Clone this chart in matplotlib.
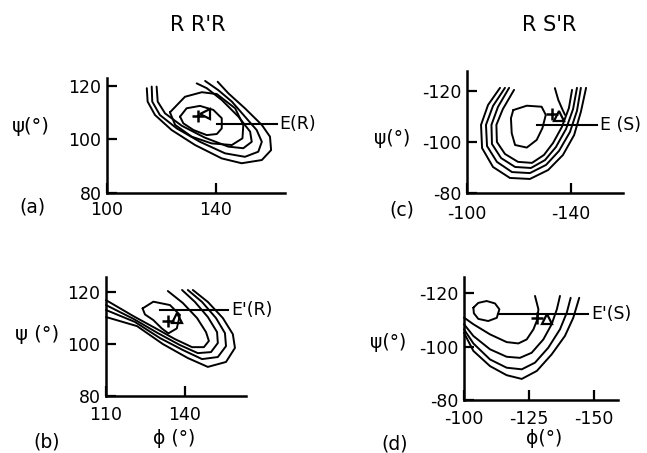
import matplotlib
matplotlib.use("Agg")
import matplotlib.pyplot as plt

# ---------------- data (phi, psi) ----------------
# panel (a)  RR'R / E(R)
a_c1 = [(126.8, 108.5), (129.2, 111.6), (134.1, 112.5), (139.0, 111.0), (142.1, 107.9),
        (142.1, 104.1), (140.3, 102.0), (136.6, 101.6), (131.7, 103.5), (128.0, 106.0)]
a_c2 = [(123.1, 110.1), (128.6, 115.9), (134.8, 117.6), (140.3, 116.9), (147.0, 111.6),
        (150.0, 105.4), (149.7, 100.4), (145.8, 97.9), (138.4, 98.5), (131.1, 101.0), (125.0, 105.4)]
a_c3 = [(118.2, 119.7), (118.6, 114.1), (121.3, 109.7), (127.4, 105.1), (136.0, 100.6), (144.5, 97.3),
        (150.0, 96.7), (153.1, 99.1), (152.5, 102.9), (148.2, 108.5), (142.1, 114.7), (136.6, 119.1),
        (132.9, 120.9)]
a_c4 = [(116.4, 119.7), (116.6, 114.1), (119.4, 109.1), (125.6, 104.1), (134.1, 99.1), (143.3, 94.8),
        (150.6, 93.5), (155.5, 95.4), (156.8, 99.1), (154.9, 103.5), (150.6, 108.5), (145.8, 114.1),
        (140.8, 118.4), (136.0, 121.8)]
a_c5 = [(114.6, 119.1), (114.9, 114.1), (117.6, 109.1), (123.7, 103.5), (132.3, 97.9), (142.1, 92.9),
        (149.4, 91.1), (156.8, 92.3), (160.2, 96.0), (159.8, 101.0), (156.8, 105.4), (150.6, 111.6),
        (144.5, 117.2), (140.6, 121.5)]
a_tri = (136.0, 109.5)
a_plus = (133.5, 108.6)
a_E_phi = [140.3, 162.3]
a_E_psi = 105.7

# panel (c)  RS'R / E(S)
c_c1 = [(-117.8, -112.5), (-123.0, -114.2), (-128.7, -113.8), (-130.3, -110.6), (-129.0, -105.4),
        (-126.8, -100.8), (-123.0, -97.8), (-118.5, -98.8), (-117.2, -103.4), (-116.9, -109.3)]
c_u1 = [(-112.7, -121.2), (-108.1, -114.5), (-105.4, -106.7), (-105.8, -97.6), (-110.0, -90.2),
        (-116.5, -85.9), (-124.2, -85.5), (-131.2, -89.0), (-136.9, -94.9), (-141.2, -102.7),
        (-143.8, -111.8), (-145.8, -121.2)]
c_u2 = [(-114.6, -121.2), (-110.0, -114.1), (-107.3, -106.7), (-107.7, -98.4), (-111.5, -92.2),
        (-117.3, -88.2), (-124.2, -87.8), (-130.4, -91.0), (-135.4, -96.5), (-139.6, -103.9),
        (-142.3, -112.2), (-143.8, -121.2)]
c_u3 = [(-116.2, -121.2), (-111.9, -113.7), (-109.4, -106.7), (-109.6, -99.2), (-113.1, -93.7),
        (-118.5, -90.2), (-124.6, -89.8), (-130.0, -92.9), (-134.2, -98.0), (-138.1, -105.1),
        (-140.8, -112.9), (-142.3, -121.2)]
c_u4 = [(-118.1, -120.4), (-113.8, -112.9), (-111.3, -106.7), (-111.5, -100.0), (-114.6, -95.3),
        (-119.6, -92.2), (-125.0, -91.8), (-129.6, -94.9), (-133.1, -99.6), (-136.5, -105.9),
        (-139.2, -113.3), (-140.4, -120.4)]
c_lead = [(-133.8, -121.1), (-135.1, -116.5), (-136.8, -112.5), (-137.7, -110.6)]
c_tri = (-135.5, -110.0)
c_plus = (-132.5, -110.8)
c_E_phi = [-126.8, -149.9]
c_E_psi = -106.7

# panel (b)  RR'R / E'(R)
b_c1 = [(123.9, 113.7), (128.0, 116.3), (134.3, 115.0), (138.1, 111.2), (136.9, 106.0),
        (133.7, 104.1), (131.2, 106.0), (128.0, 109.2), (124.8, 111.4)]
b_v1 = [(133.5, 120.4), (139.2, 115.8), (144.6, 110.0), (148.0, 104.6), (149.1, 101.2), (147.2, 98.8),
        (142.7, 98.8), (136.2, 101.9), (128.6, 106.2), (120.3, 110.8), (110.0, 116.9)]
b_v2 = [(138.9, 120.8), (143.8, 116.2), (148.7, 110.4), (152.2, 104.6), (152.5, 100.4), (149.9, 96.9),
        (144.9, 96.5), (138.1, 99.6), (129.7, 104.2), (120.6, 109.6), (110.0, 115.0)]
b_v3 = [(141.1, 120.8), (146.5, 116.2), (151.8, 110.0), (155.2, 104.2), (155.6, 99.2), (152.5, 95.0),
        (146.5, 94.2), (139.2, 97.7), (130.5, 102.3), (121.0, 108.5), (110.0, 113.1)]
b_v4 = [(143.0, 120.8), (148.7, 116.2), (154.4, 110.0), (158.2, 103.8), (159.0, 98.5), (155.6, 93.1),
        (148.7, 91.2), (141.1, 94.6), (131.6, 100.0), (121.8, 106.9), (110.0, 110.4)]
b_tri = (136.9, 109.9)
b_plus = (133.7, 109.0)
b_E_phi = [130.5, 156.4]
b_E_psi = 113.1

# panel (d)  RS'R / E'(S)
d_c1 = [(-103.6, -114.6), (-105.5, -116.4), (-108.7, -117.1), (-111.9, -116.2), (-113.6, -114.0),
        (-112.6, -110.8), (-109.3, -109.6), (-105.5, -110.4), (-103.8, -112.5)]
d_w1 = [(-100.0, -110.9), (-103.6, -108.4), (-110.0, -104.6), (-116.4, -101.7), (-120.9, -101.2),
        (-124.1, -102.7), (-126.7, -106.5), (-128.2, -110.2), (-128.6, -114.0), (-127.3, -119.0)]
d_w2 = [(-100.0, -108.4), (-103.6, -104.0), (-110.0, -99.0), (-116.4, -96.2), (-121.5, -95.8),
        (-126.0, -97.7), (-130.5, -102.7), (-133.7, -108.4), (-135.7, -114.0), (-136.9, -119.0)]
d_w3 = [(-100.0, -106.5), (-103.6, -101.2), (-110.0, -95.2), (-116.4, -92.1), (-122.2, -91.5),
        (-127.3, -94.0), (-132.4, -99.6), (-136.9, -106.5), (-139.5, -112.7), (-141.0, -118.3)]
d_w4 = [(-100.0, -105.2), (-103.6, -98.4), (-110.0, -92.7), (-116.4, -89.3), (-122.2, -87.9),
        (-128.0, -90.9), (-133.7, -97.1), (-138.8, -104.0), (-142.0, -110.8), (-144.3, -118.3)]
d_tri = (-132.0, -110.2)
d_plus = (-128.2, -110.8)
d_E_phi = [-113.2, -147.8]
d_E_psi = -112.3

# ticks
a_xticks, a_xlabels = [100, 140], ["100", "140"]
a_yticks, a_ylabels = [80, 100, 120], ["80", "100", "120"]
b_xticks, b_xlabels = [110, 140], ["110", "140"]
b_yticks, b_ylabels = [80, 100, 120], ["80", "100", "120"]
c_xticks, c_xlabels = [-100, -140], ["-100", "-140"]
c_yticks, c_ylabels = [-80, -100, -120], ["-80", "-100", "-120"]
d_xticks, d_xlabels = [-100, -125, -150], ["-100", "-125", "-150"]
d_yticks, d_ylabels = [-80, -100, -120], ["-80", "-100", "-120"]

# ---------------- drawing ----------------
plt.rcParams['font.family'] = ['DejaVu Sans']
W, H = 647, 453
fig = plt.figure(figsize=(W / 100, H / 100), dpi=100)
LW = 1.4
FS = 12.5


def px_axes(l, t, r, b):
    return fig.add_axes([l / W, 1 - b / H, (r - l) / W, (b - t) / H])


def style(ax, xlim, ylim, xt, xtl, yt, ytl, xpad):
    ax.set_xlim(*xlim)
    ax.set_ylim(*ylim)
    for s in ("top", "right"):
        ax.spines[s].set_visible(False)
    for s in ("left", "bottom"):
        ax.spines[s].set_linewidth(1.8)
    ax.set_xticks(xt)
    ax.set_xticklabels(xtl)
    ax.set_yticks(yt)
    ax.set_yticklabels(ytl)
    ax.tick_params(direction="in", length=7, width=1.6, labelsize=FS)
    ax.tick_params(axis="y", pad=4)
    ax.tick_params(axis="x", pad=xpad)
    ax.patch.set_alpha(0)


def curve(ax, pts, closed=False):
    xs = [p[0] for p in pts]
    ys = [p[1] for p in pts]
    if closed:
        xs.append(xs[0])
        ys.append(ys[0])
    ax.plot(xs, ys, color="black", lw=LW, solid_joinstyle="round",
            solid_capstyle="round", clip_on=False)


def marks(ax, tri, plus, tmarker="^"):
    ax.plot([plus[0]], [plus[1]], marker="+", ms=8, mew=1.8, color="black", clip_on=False)
    ax.plot([tri[0]], [tri[1]], marker=tmarker, ms=7, mew=1.6, mfc="none", mec="black", clip_on=False)


def eline(ax, xs, y, text):
    ax.plot(xs, [y, y], color="black", lw=1.5, clip_on=False)
    ax.annotate(text, xy=(xs[1], y), xytext=(2, 0), textcoords="offset points",
                ha="left", va="center", fontsize=FS, annotation_clip=False)


# (a)
ax = px_axes(107, 78, 285, 193)
style(ax, (100, 165.3), (80, 122.9), a_xticks, a_xlabels, a_yticks, a_ylabels, 5.5)
curve(ax, a_c1, True)
curve(ax, a_c2, True)
for c in (a_c3, a_c4, a_c5):
    curve(ax, c)
marks(ax, a_tri, a_plus, "<")
eline(ax, a_E_phi, a_E_psi, "E(R)")

# (c)
ax = px_axes(467, 71, 623, 193)
style(ax, (-100, -160), (-80, -127.8), c_xticks, c_xlabels, c_yticks, c_ylabels, 8.5)
curve(ax, c_c1, True)
for c in (c_u1, c_u2, c_u3, c_u4, c_lead):
    curve(ax, c)
marks(ax, c_tri, c_plus)
eline(ax, c_E_phi, c_E_psi, "E (S)")

# (b)
ax = px_axes(106, 277, 246, 396)
style(ax, (110, 163.2), (80, 125.8), b_xticks, b_xlabels, b_yticks, b_ylabels, 7.0)
curve(ax, b_c1, True)
for c in (b_v1, b_v2, b_v3, b_v4):
    curve(ax, c)
marks(ax, b_tri, b_plus)
eline(ax, b_E_phi, b_E_psi, "E'(R)")

# (d)
ax = px_axes(464, 277, 618, 400)
style(ax, (-100, -159.2), (-80, -126.1), d_xticks, d_xlabels, d_yticks, d_ylabels, 7.0)
curve(ax, d_c1, True)
for c in (d_w1, d_w2, d_w3, d_w4):
    curve(ax, c)
marks(ax, d_tri, d_plus)
eline(ax, d_E_phi, d_E_psi, "E'(S)")


def ftext(x, y, s, size=FS):
    fig.text(x / W, 1 - y / H, s, ha="center", va="center", fontsize=size)


ftext(198, 25, "R R'R", 15)
ftext(549, 25, "R S'R", 15)
ftext(31, 126, "ψ(°)", 14)
ftext(392, 139, "ψ(°)", 13.5)
ftext(37, 335, "ψ (°)", 14)
ftext(388, 343, "ψ(°)", 13.5)
ftext(174, 438, "ϕ (°)", 13.5)
ftext(544, 439, "ϕ(°)", 13.5)
ftext(32, 207, "(a)", 13.5)
ftext(402, 210, "(c)", 13.5)
ftext(47, 442, "(b)", 13.5)
ftext(395, 444, "(d)", 13.5)

fig.savefig("out.png", dpi=100)
